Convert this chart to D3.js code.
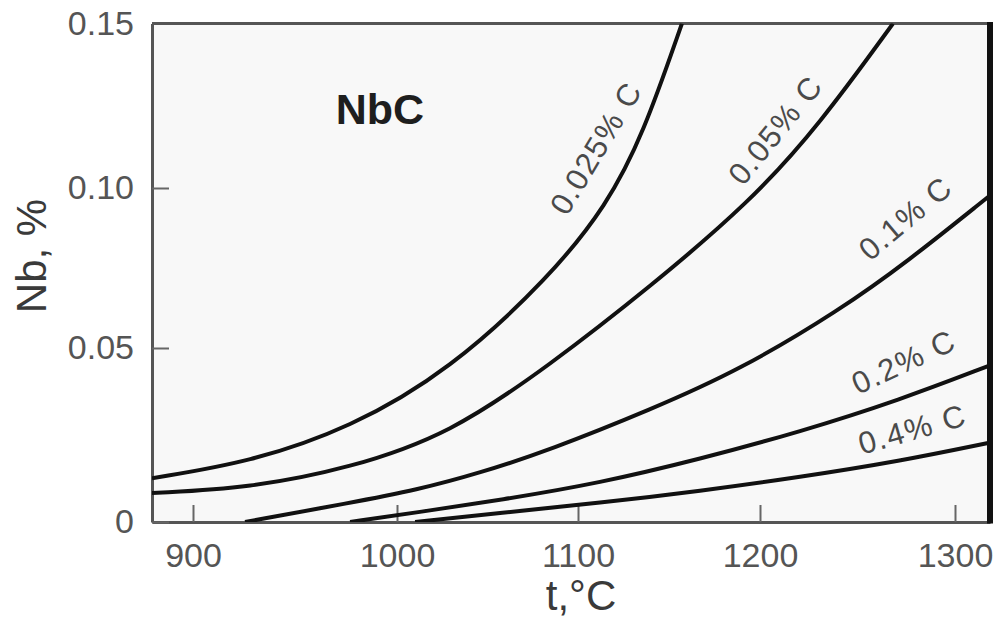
<!DOCTYPE html>
<html>
<head>
<meta charset="utf-8">
<script src="https://cdn.jsdelivr.net/npm/d3@7"></script>
<style>
  html, body { margin: 0; padding: 0; background: #ffffff; }
  svg { display: block; }
  text { font-family: "Liberation Sans", Arial, sans-serif; }
</style>
</head>
<body>
<svg id="chart" width="1000" height="619"></svg>
<script>
// Solubility of NbC in austenite: dissolved Nb (%) versus temperature for several carbon levels

const tempTicks = [900, 1000, 1100, 1200, 1300];
const nbTicks = [0, 0.05, 0.10, 0.15];
const nbTickLabels = ["0", "0.05", "0.10", "0.15"];

const carbonLabels = ["0.025% C", "0.05% C", "0.1% C", "0.2% C", "0.4% C"];

// temperature (°C) / Nb (%) pairs along each carbon curve
const temp025 = [880, 927.9, 977, 1029.3, 1084.5, 1115.9, 1135.7, 1157.1];
const nb025   = [0.0126, 0.0172, 0.0270, 0.0437, 0.0722, 0.0947, 0.1161, 0.150];

const temp05 = [880, 927.9, 977, 1029.3, 1084.5, 1139.6, 1194.5, 1230.8, 1268.2];
const nb05   = [0.0083, 0.0098, 0.0155, 0.0253, 0.0451, 0.0691, 0.0956, 0.1195, 0.150];

const temp1 = [925.5, 977, 1011, 1045.9, 1084.5, 1139.6, 1189, 1241, 1275.4, 1317];
const nb1   = [0.0, 0.0055, 0.0092, 0.0141, 0.0207, 0.0322, 0.0437, 0.0619, 0.0769, 0.0972];

const temp2 = [977, 1012.7, 1056.9, 1112.1, 1167, 1220.5, 1271.8, 1317];
const nb2   = [0.0, 0.0029, 0.0063, 0.0112, 0.0181, 0.0259, 0.0351, 0.0448];

const temp4 = [1010, 1056.9, 1112.1, 1167, 1220.5, 1271.8, 1317];
const nb4   = [0.0, 0.0026, 0.0055, 0.0089, 0.0129, 0.0175, 0.0227];

// where each curve label starts (temperature, Nb) and its tilt
const labelTemp = [1093.9, 1190.7, 1256.4, 1250.3, 1252.3];
const labelNb   = [0.0909, 0.1003, 0.0769, 0.0365, 0.0193];
const labelAngle = [-59, -51, -40, -25, -16];

const seriesTemps = [temp025, temp05, temp1, temp2, temp4];
const seriesNb = [nb025, nb05, nb1, nb2, nb4];

const svg = d3.select("#chart");

// the printed axis is slightly uneven, so the scales are piecewise linear between ticks
const x = d3.scaleLinear()
  .domain([880, 900, 1000, 1100, 1200, 1300, 1318])
  .range([152, 193, 397, 578, 760, 955, 990]);
const y = d3.scaleLinear()
  .domain([0, 0.05, 0.10, 0.15])
  .range([522, 348, 188, 23.5]);

const [x0, x1] = [x(880), x(1318)];
const [yb, yt] = [y(0), y(0.15)];

// plot background
svg.append("rect")
  .attr("x", x0).attr("y", yt)
  .attr("width", x1 - x0).attr("height", yb - yt)
  .attr("fill", "#f8f8f8");

svg.append("clipPath").attr("id", "plot-clip")
  .append("rect")
  .attr("x", x0).attr("y", yt)
  .attr("width", x1 - x0).attr("height", yb - yt);

// axes
const xAxis = d3.axisBottom(x)
  .tickValues(tempTicks)
  .tickSize(-17)
  .tickSizeOuter(0)
  .tickPadding(21)
  .tickFormat(d3.format("d"));

const yAxis = d3.axisLeft(y)
  .tickValues(nbTicks)
  .tickSize(-17)
  .tickSizeOuter(0)
  .tickPadding(18)
  .tickFormat((d, i) => nbTickLabels[i]);

const gx = svg.append("g")
  .attr("transform", `translate(0,${yb})`)
  .call(xAxis);
const gy = svg.append("g")
  .attr("transform", `translate(${x0},0)`)
  .call(yAxis);

[gx, gy].forEach(g => {
  g.select(".domain").attr("stroke", "#555").attr("stroke-width", 3);
  g.selectAll(".tick line").attr("stroke", "#666").attr("stroke-width", 2);
  g.selectAll(".tick text")
    .attr("fill", "#555")
    .style("font-size", "34px")
    .style("font-family", "'Liberation Sans', Arial, sans-serif");
});

// top and right frame
svg.append("line")
  .attr("x1", x0).attr("x2", x1).attr("y1", yt).attr("y2", yt)
  .attr("stroke", "#555").attr("stroke-width", 3);
svg.append("line")
  .attr("x1", x1).attr("x2", x1).attr("y1", yt - 1.5).attr("y2", yb + 1.5)
  .attr("stroke", "#111").attr("stroke-width", 6);

// solubility curves
const line = d3.line()
  .x(d => x(d[0]))
  .y(d => y(d[1]))
  .curve(d3.curveBasis);

const curves = svg.append("g").attr("clip-path", "url(#plot-clip)");
seriesTemps.forEach((temps, i) => {
  const pts = temps.map((t, j) => [t, seriesNb[i][j]]);
  curves.append("path")
    .datum(pts)
    .attr("d", line)
    .attr("fill", "none")
    .attr("stroke", "#111")
    .attr("stroke-width", 4)
    .attr("stroke-linecap", "butt");
});

// curve labels
carbonLabels.forEach((lab, i) => {
  svg.append("text")
    .attr("transform", `translate(${x(labelTemp[i])},${y(labelNb[i])}) rotate(${labelAngle[i]})`)
    .attr("fill", "#4a4a4a")
    .style("font-size", "31px")
    .style("letter-spacing", "1.5px")
    .text(lab);
});

// phase name
svg.append("text")
  .attr("x", x(970)).attr("y", y(0.1195))
  .attr("fill", "#1e1e1e")
  .style("font-size", "43px")
  .style("font-weight", "bold")
  .text("NbC");

// axis titles
svg.append("text")
  .attr("x", 581).attr("y", 610)
  .attr("text-anchor", "middle")
  .attr("fill", "#3a3a3a")
  .style("font-size", "42px")
  .text("t,°C");

svg.append("text")
  .attr("transform", "translate(46,256) rotate(-90)")
  .attr("text-anchor", "middle")
  .attr("fill", "#3a3a3a")
  .style("font-size", "42px")
  .text("Nb, %");
</script>
</body>
</html>
